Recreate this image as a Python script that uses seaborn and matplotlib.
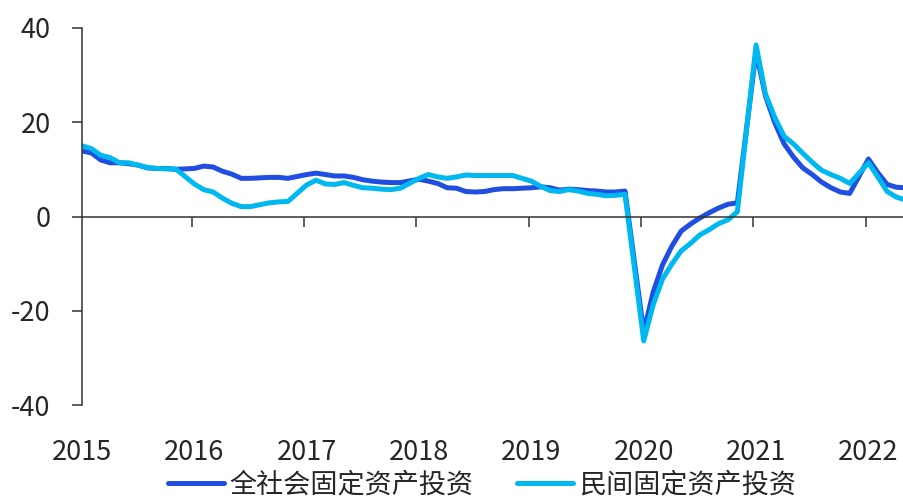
import matplotlib
matplotlib.use("Agg")
import matplotlib.pyplot as plt
import pandas as pd
import seaborn as sns

# monthly cumulative yoy (%), Jan is merged into Feb, so each year starts in Feb
years = [2015, 2016, 2017, 2018, 2019, 2020, 2021, 2022]
year_labels = [str(y) for y in years]
series_names = ["全社会固定资产投资", "民间固定资产投资"]

total_fai = [
    13.9, 13.5, 12.0, 11.4, 11.4, 11.2, 10.9, 10.3, 10.2, 10.2, 10.0,
    10.2, 10.7, 10.5, 9.6, 9.0, 8.1, 8.1, 8.2, 8.3, 8.3, 8.1,
    8.9, 9.2, 8.9, 8.6, 8.6, 8.3, 7.8, 7.5, 7.3, 7.2, 7.2,
    7.9, 7.5, 7.0, 6.1, 6.0, 5.3, 5.2, 5.3, 5.7, 5.9, 5.9,
    6.1, 6.3, 6.1, 5.6, 5.8, 5.7, 5.5, 5.4, 5.2, 5.2, 5.4,
    -24.5, -16.1, -10.3, -6.3, -3.1, -1.6, -0.3, 0.8, 1.8, 2.6, 2.9,
    35.0, 25.6, 19.9, 15.4, 12.6, 10.3, 8.9, 7.3, 6.1, 5.2, 4.9,
    12.2, 9.3, 6.8, 6.2, 6.1,
]
private_fai = [
    15.0, 14.4, 13.0, 12.5, 11.4, 11.4, 10.9, 10.4, 10.2, 10.1, 10.1,
    6.9, 5.7, 5.2, 3.9, 2.8, 2.1, 2.1, 2.5, 2.9, 3.1, 3.2,
    6.7, 7.7, 6.9, 6.8, 7.2, 6.6, 6.1, 6.0, 5.8, 5.7, 6.0,
    8.1, 8.9, 8.4, 8.1, 8.4, 8.8, 8.7, 8.7, 8.7, 8.7, 8.7,
    7.5, 6.4, 5.5, 5.3, 5.7, 5.4, 4.9, 4.7, 4.4, 4.5, 4.7,
    -26.4, -18.8, -13.3, -10.1, -7.3, -5.7, -3.9, -2.8, -1.5, -0.7, 1.0,
    36.4, 26.0, 21.0, 17.0, 15.4, 13.4, 11.5, 9.8, 8.9, 8.1, 7.0,
    11.4, 8.4, 5.3, 4.1, 3.5,
]

# month index counted from Feb 2015 (Jan slots stay empty)
months = []
for y in years:
    last = 6 if y == 2022 else 12
    for m in range(2, last + 1):
        months.append((y - 2015) * 12 + (m - 2))

df = pd.concat([
    pd.DataFrame({"t": months, "value": total_fai, "series": series_names[0]}),
    pd.DataFrame({"t": months, "value": private_fai, "series": series_names[1]}),
])

sns.set_theme(style="white")
plt.rcParams["font.family"] = ["Noto Sans CJK SC", "DejaVu Sans"]
plt.rcParams["axes.unicode_minus"] = False

fig = plt.figure(figsize=(9.04, 4.98), dpi=100)
ax = fig.add_axes([82 / 904, 1 - 405 / 498, 822 / 904, 377 / 498])

sns.lineplot(data=df, x="t", y="value", hue="series", hue_order=series_names,
             palette=["#204EE0", "#00B8F0"], linewidth=3.6, legend=False, ax=ax)

ax.set_xlim(0, 87.8)
ax.set_ylim(-40, 40)
ax.set_yticks([-40, -20, 0, 20, 40])
ax.set_xlabel("")
ax.set_ylabel("")

for s in ["top", "right"]:
    ax.spines[s].set_visible(False)
ax.spines["bottom"].set_position(("data", 0))
for s in ["left", "bottom"]:
    ax.spines[s].set_color("#333333")
    ax.spines[s].set_linewidth(1.1)

ax.set_xticks([12 * k for k in range(len(years))])
ax.set_xticklabels(year_labels)
ax.set_xticks([12 * k - 0.3 for k in range(1, len(years))], minor=True)
ax.tick_params(axis="x", which="major", length=0, pad=160, labelsize=19.5)
ax.tick_params(axis="x", which="minor", bottom=True, direction="out",
               length=7.5, width=1.1, color="#333333")
ax.tick_params(axis="y", left=True, direction="out", length=7.5, width=1.1,
               color="#333333", pad=15, labelsize=19.5)

fig.legend(ax.lines[:2], series_names, loc="center",
           bbox_to_anchor=(0.533, 1 - 485 / 498), ncol=2, frameon=False,
           fontsize=19.5, handlelength=2.07, handletextpad=0.22,
           columnspacing=1.6, borderpad=0)

fig.savefig("out.png", dpi=100)
